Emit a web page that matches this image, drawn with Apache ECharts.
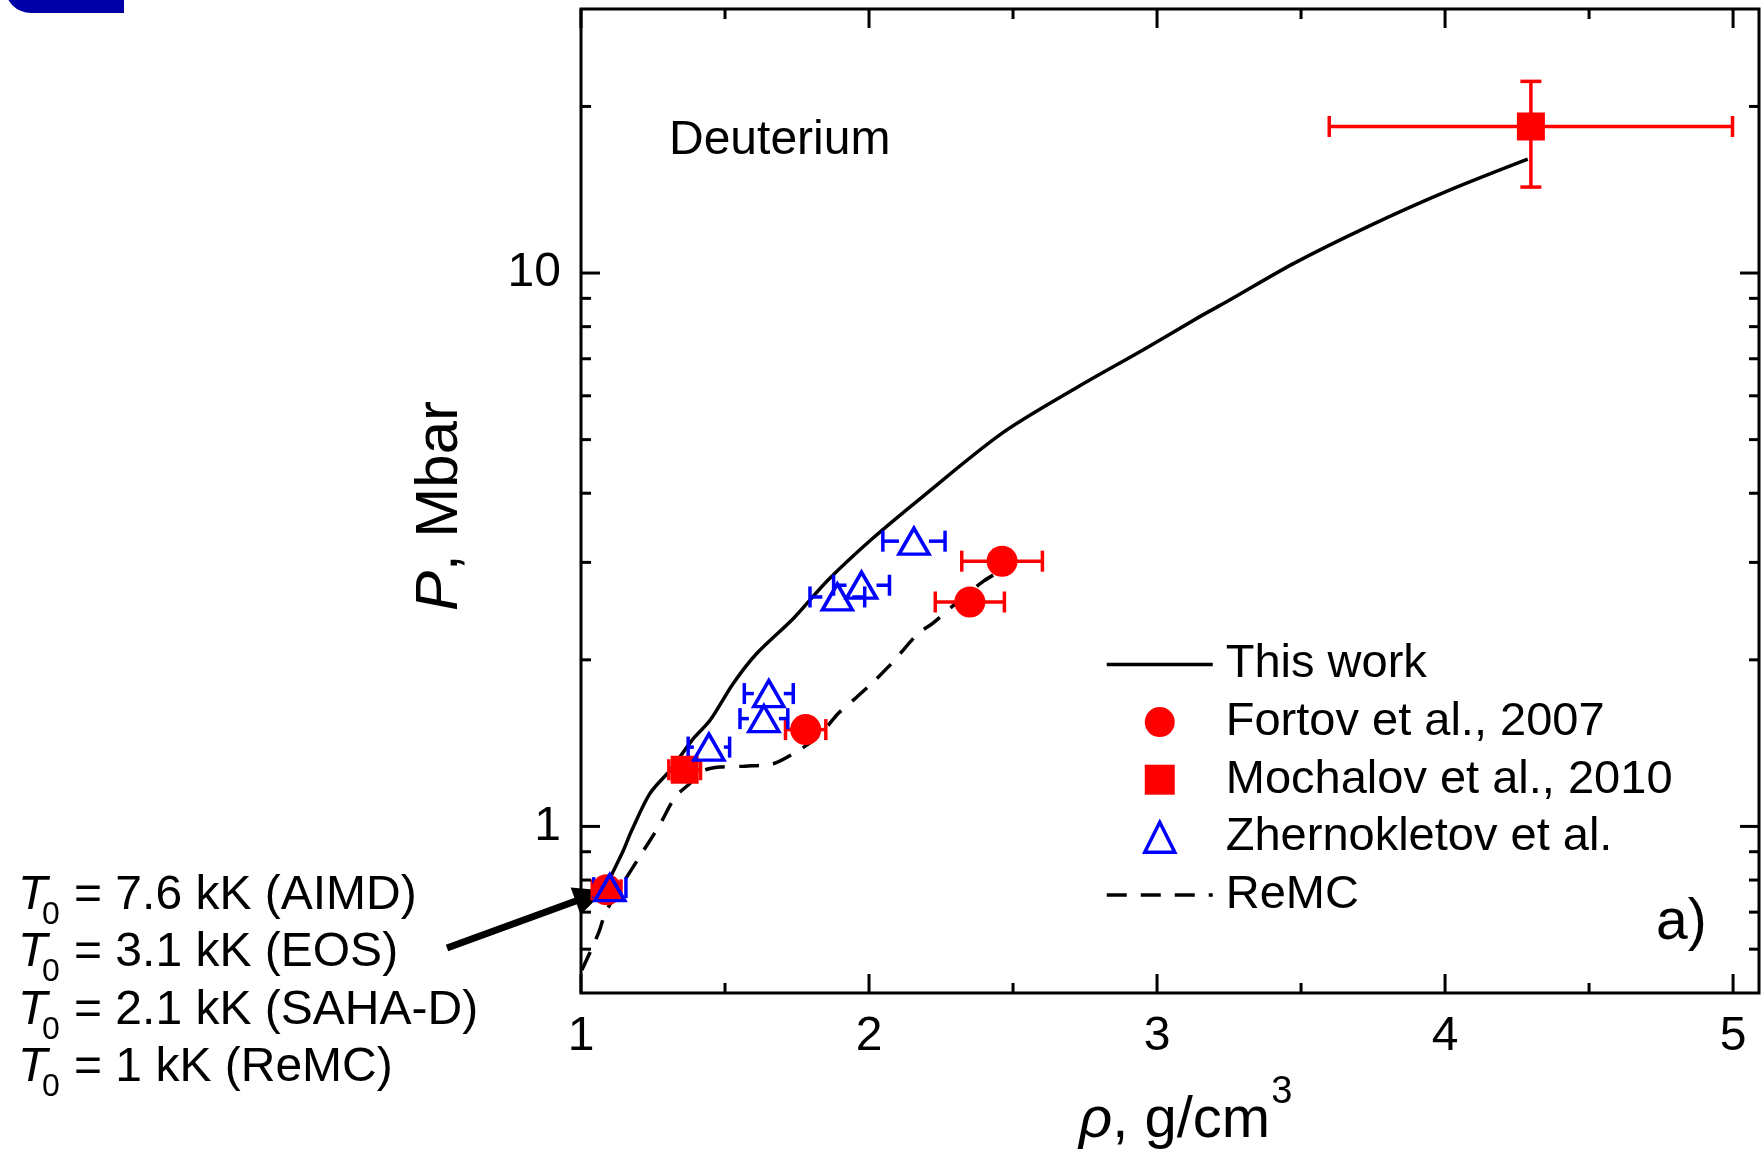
<!DOCTYPE html>
<html>
<head>
<meta charset="utf-8">
<title>Deuterium shock Hugoniot</title>
<script src="https://cdn.jsdelivr.net/npm/echarts@6/dist/echarts.min.js"></script>
<style>
  html, body { margin: 0; padding: 0; background: #fff; }
  #chart { width: 1762px; height: 1150px; }
</style>
</head>
<body>
<div id="chart"></div>
<script>
// axis ranges and tick values
const X_MIN = 1, X_MAX = 5.09
const Y_MIN = 0.5, Y_MAX = 30
const xTicksMajor = [1, 2, 3, 4, 5]
const xTicksMinor = [1.5, 2.5, 3.5, 4.5]
const yTicksMajor = [1, 10]
const yTicksMinor = [0.6, 0.7, 0.8, 0.9, 2, 3, 4, 5, 6, 7, 8, 9, 20]
const xLabels = [1, 2, 3, 4, 5]
const yLabels = [1, 10]

// "This work" (solid)
const thisWorkRho = [1.095, 1.107, 1.147, 1.176, 1.239, 1.309, 1.390, 1.448, 1.528, 1.610, 1.740, 1.857, 2.012, 2.178, 2.460, 2.726, 2.951, 3.150, 3.246, 3.475, 3.732, 4.003, 4.287]
const thisWorkP = [0.790, 0.819, 0.905, 0.983, 1.146, 1.263, 1.441, 1.555, 1.811, 2.053, 2.383, 2.785, 3.313, 3.913, 5.127, 6.23, 7.26, 8.35, 8.90, 10.41, 12.13, 14.03, 16.06]

// ReMC (dashed)
const remcRho = [1.003, 1.060, 1.089, 1.199, 1.274, 1.326, 1.378, 1.424, 1.482, 1.570, 1.667, 1.737, 1.806, 1.852, 1.893, 1.956, 2.008, 2.066, 2.107, 2.170, 2.222, 2.286, 2.400, 2.460]
const remcP = [0.550, 0.640, 0.705, 0.874, 1.008, 1.128, 1.196, 1.260, 1.280, 1.285, 1.298, 1.353, 1.430, 1.510, 1.600, 1.710, 1.810, 1.940, 2.050, 2.230, 2.330, 2.490, 2.780, 2.900]

// Fortov et al., 2007
const fortovRho = [1.089, 1.780, 2.350, 2.462]
const fortovP = [0.768, 1.496, 2.544, 3.015]
const fortovErr = [0.05, 0.07, 0.12, 0.14]

// Mochalov et al., 2010
const mochalovRho = [1.360, 4.298]
const mochalovP = [1.266, 18.4]
const mochalovErr = [0.055, 0.70]
const mochalovPLow = [1.266, 14.3]
const mochalovPHigh = [1.266, 22.2]

// Zhernokletov et al.
const zhernRho = [1.100, 1.444, 1.635, 1.652, 1.890, 1.974, 2.156]
const zhernP = [0.775, 1.391, 1.566, 1.738, 2.598, 2.728, 3.277]
const zhernErr = [0.056, 0.072, 0.083, 0.085, 0.095, 0.097, 0.108]

// initial temperatures listed on the left
const t0Values = ['7.6', '3.1', '2.1', '1']
const t0Models = ['AIMD', 'EOS', 'SAHA-D', 'ReMC']

const FONT = "'Liberation Sans', Arial, Helvetica, sans-serif"
const RED = '#ff0000'
const BLUE = '#0000ff'

const pairs = (xs, ys) => xs.map((x, i) => [x, ys[i]])

const tickStyle = { stroke: '#000', lineWidth: 3 }

function xTickItem(params, api) {
  const v = api.value(0), len = api.value(2)
  const b = api.coord([v, Y_MIN]), t = api.coord([v, Y_MAX])
  return {
    type: 'group',
    children: [
      { type: 'line', shape: { x1: b[0], y1: b[1], x2: b[0], y2: b[1] - len }, style: tickStyle },
      { type: 'line', shape: { x1: t[0], y1: t[1], x2: t[0], y2: t[1] + len }, style: tickStyle }
    ]
  }
}

function yTickItem(params, api) {
  const v = api.value(1), len = api.value(2)
  const l = api.coord([X_MIN, v]), r = api.coord([X_MAX, v])
  return {
    type: 'group',
    children: [
      { type: 'line', shape: { x1: l[0], y1: l[1], x2: l[0] + len, y2: l[1] }, style: tickStyle },
      { type: 'line', shape: { x1: r[0], y1: r[1], x2: r[0] - len, y2: r[1] }, style: tickStyle }
    ]
  }
}

// horizontal (and optional vertical) error bars with caps; gap keeps bars out of hollow symbols
function errorBarItem(color, gap) {
  return function (params, api) {
    const x = api.value(0), y = api.value(1), dx = api.value(2)
    const lo = api.value(3), hi = api.value(4)
    const c = api.coord([x, y])
    const l = api.coord([x - dx, y])
    const r = api.coord([x + dx, y])
    const s = { stroke: color, lineWidth: 3.5 }
    const cap = 10.5
    const kids = [
      { type: 'line', shape: { x1: l[0], y1: c[1], x2: c[0] - gap, y2: c[1] }, style: s },
      { type: 'line', shape: { x1: c[0] + gap, y1: c[1], x2: r[0], y2: c[1] }, style: s },
      { type: 'line', shape: { x1: l[0], y1: c[1] - cap, x2: l[0], y2: c[1] + cap }, style: s },
      { type: 'line', shape: { x1: r[0], y1: c[1] - cap, x2: r[0], y2: c[1] + cap }, style: s }
    ]
    if (hi > lo) {
      const t = api.coord([x, hi]), b = api.coord([x, lo])
      kids.push(
        { type: 'line', shape: { x1: c[0], y1: t[1], x2: c[0], y2: b[1] }, style: s },
        { type: 'line', shape: { x1: c[0] - cap, y1: t[1], x2: c[0] + cap, y2: t[1] }, style: s },
        { type: 'line', shape: { x1: c[0] - cap, y1: b[1], x2: c[0] + cap, y2: b[1] }, style: s }
      )
    }
    return { type: 'group', children: kids }
  }
}

function errorData(rho, p, err, lo, hi) {
  return rho.map((x, i) => [x, p[i], err[i], lo ? lo[i] : p[i], hi ? hi[i] : p[i]])
}

// legend rows: one for each line, one block for the three symbol series
const ROW = 57.6
const LEG_TOP = 635.5
const legendText = { fontSize: 47, fontFamily: FONT, color: '#000', lineHeight: 48 }
const hideLegendSymbol = { color: 'rgba(0,0,0,0)', borderWidth: 0, opacity: 0 }

const chart = echarts.init(document.getElementById('chart'))

chart.setOption({
  animation: false,
  backgroundColor: '#fff',
  grid: {
    left: 581, top: 9, width: 1178, height: 984,
    show: true, borderColor: '#000', borderWidth: 3, backgroundColor: 'transparent'
  },
  xAxis: {
    type: 'value', min: X_MIN, max: X_MAX, interval: 1,
    axisLine: { show: false }, axisTick: { show: false }, splitLine: { show: false },
    axisLabel: {
      margin: 20, fontSize: 48, fontFamily: FONT, color: '#000',
      formatter: v => (xLabels.indexOf(v) >= 0 ? String(v) : '')
    }
  },
  yAxis: {
    type: 'log', logBase: 10, min: Y_MIN, max: Y_MAX,
    axisLine: { show: false }, axisTick: { show: false }, splitLine: { show: false },
    axisLabel: {
      margin: 20, fontSize: 48, fontFamily: FONT, color: '#000',
      formatter: v => (yLabels.some(t => Math.abs(t - v) < 1e-9) ? String(Math.round(v)) : '')
    },
    name: '{i|P}{n|, Mbar}',
    nameLocation: 'middle', nameGap: 111,
    nameTextStyle: {
      padding: [0, 10, 0, 0],
      rich: {
        i: { fontSize: 60, fontFamily: FONT, fontStyle: 'italic', color: '#000' },
        n: { fontSize: 60, fontFamily: FONT, color: '#000' }
      }
    }
  },
  legend: [
    {
      orient: 'vertical', left: 1100, top: LEG_TOP,
      itemWidth: 106, itemHeight: 30, selectedMode: false,
      textStyle: Object.assign({ padding: [0, 0, 0, 8] }, legendText),
      lineStyle: { width: 3.5 },
      data: [{ name: 'This work', itemStyle: hideLegendSymbol }]
    },
    {
      orient: 'vertical', left: 1138, top: LEG_TOP + ROW,
      itemWidth: 30, itemHeight: 30, itemGap: ROW - 48, selectedMode: false,
      symbolKeepAspect: true,
      textStyle: Object.assign({ padding: [0, 0, 0, 46] }, legendText),
      data: [
        { name: 'Fortov et al., 2007' },
        { name: 'Mochalov et al., 2010' },
        { name: 'Zhernokletov et al.', itemStyle: { borderWidth: 3.5 } }
      ]
    },
    {
      orient: 'vertical', left: 1100, top: LEG_TOP + 4 * ROW,
      itemWidth: 106, itemHeight: 30, selectedMode: false,
      textStyle: Object.assign({ padding: [0, 0, 0, 8] }, legendText),
      lineStyle: { width: 3.5 },
      data: [{ name: 'ReMC', itemStyle: hideLegendSymbol }]
    }
  ],
  series: [
    {
      name: 'xticks', type: 'custom', renderItem: xTickItem, silent: true, z: 10,
      data: xTicksMajor.map(v => [v, Y_MIN, 19]).concat(xTicksMinor.map(v => [v, Y_MIN, 10]))
    },
    {
      name: 'yticks', type: 'custom', renderItem: yTickItem, silent: true, z: 10,
      data: yTicksMajor.map(v => [X_MIN, v, 19]).concat(yTicksMinor.map(v => [X_MIN, v, 10]))
    },
    {
      name: 'This work', type: 'line', data: pairs(thisWorkRho, thisWorkP),
      symbol: 'none', smooth: 0.3, z: 2,
      lineStyle: { color: '#000', width: 3.5 }, itemStyle: { color: '#000' }
    },
    {
      name: 'ReMC', type: 'line', data: pairs(remcRho, remcP),
      symbol: 'none', smooth: 0.3, z: 2,
      lineStyle: { color: '#000', width: 3.5, type: [20, 14] }, itemStyle: { color: '#000' }
    },
    {
      name: 'fortov-err', type: 'custom', renderItem: errorBarItem(RED, 0), z: 3,
      data: errorData(fortovRho, fortovP, fortovErr)
    },
    {
      name: 'mochalov-err', type: 'custom', renderItem: errorBarItem(RED, 0), z: 3,
      data: errorData(mochalovRho, mochalovP, mochalovErr, mochalovPLow, mochalovPHigh)
    },
    {
      name: 'zhern-err', type: 'custom', renderItem: errorBarItem(BLUE, 15), z: 3,
      data: errorData(zhernRho, zhernP, zhernErr)
    },
    {
      name: 'Fortov et al., 2007', type: 'scatter', data: pairs(fortovRho, fortovP),
      symbol: 'circle', symbolSize: 31, z: 4, itemStyle: { color: RED, opacity: 1 }
    },
    {
      name: 'Mochalov et al., 2010', type: 'scatter', data: pairs(mochalovRho, mochalovP),
      symbol: 'rect', symbolSize: 28, z: 4, itemStyle: { color: RED, opacity: 1 }
    },
    {
      name: 'Zhernokletov et al.', type: 'scatter', data: pairs(zhernRho, zhernP),
      symbol: 'triangle', symbolSize: [30, 26], z: 5,
      itemStyle: { color: 'rgba(255,255,255,0)', borderColor: BLUE, borderWidth: 3.5, opacity: 1 }
    }
  ]
})

// text width helper for the composed axis title
const measureCtx = document.createElement('canvas').getContext('2d')
function textWidth(text, size, style) {
  measureCtx.font = (style ? style + ' ' : '') + size + 'px ' + FONT
  return measureCtx.measureText(text).width
}

// annotations: arrow to the starting state, labels
const tip0 = chart.convertToPixel({ gridIndex: 0 }, [fortovRho[0], fortovP[0]])
const tail = [447, 948]
const dxA = tip0[0] - tail[0], dyA = tip0[1] - tail[1]
const lenA = Math.sqrt(dxA * dxA + dyA * dyA)
const ux = dxA / lenA, uy = dyA / lenA
const tip = [tip0[0] - 2 * ux, tip0[1] - 2 * uy]
const nx = -uy, ny = ux
const headLen = 31, headHalf = 14.5

// x-axis title: rho, g/cm^3
const titleX = 1079, titleY = 1121
const rhoW = textWidth('ρ', 58, 'italic')
const unitW = textWidth(', g/cm', 58)

const graphics = [
  {
    type: 'rect',
    shape: { x: 5, y: -40, width: 119, height: 53, r: [0, 0, 0, 26] },
    style: { fill: '#0000a8' }
  },
  {
    type: 'text', x: 669, y: 140.5,
    style: { text: 'Deuterium', fontSize: 48, fontFamily: FONT, fill: '#000', verticalAlign: 'middle' }
  },
  {
    type: 'text', x: 1656, y: 923,
    style: { text: 'a)', fontSize: 57, fontFamily: FONT, fill: '#000', verticalAlign: 'middle' }
  },
  {
    type: 'text', x: titleX, y: titleY,
    style: { text: 'ρ', fontSize: 58, fontStyle: 'italic', fontFamily: FONT, fill: '#000', verticalAlign: 'middle' }
  },
  {
    type: 'text', x: titleX + rhoW, y: titleY,
    style: { text: ', g/cm', fontSize: 58, fontFamily: FONT, fill: '#000', verticalAlign: 'middle' }
  },
  {
    type: 'text', x: titleX + rhoW + unitW + 1, y: 1093,
    style: { text: '3', fontSize: 38, fontFamily: FONT, fill: '#000', verticalAlign: 'middle' }
  },
  {
    type: 'line',
    shape: { x1: tail[0], y1: tail[1], x2: tip[0] - 22 * ux, y2: tip[1] - 22 * uy },
    style: { stroke: '#000', lineWidth: 7 }
  },
  {
    type: 'polygon',
    shape: {
      points: [
        tip,
        [tip[0] - headLen * ux + headHalf * nx, tip[1] - headLen * uy + headHalf * ny],
        [tip[0] - headLen * ux - headHalf * nx, tip[1] - headLen * uy - headHalf * ny]
      ]
    },
    style: { fill: '#000' }
  }
]

const lineCenters = [895.5, 952.5, 1010.5, 1067.5]
t0Values.forEach((val, i) => {
  const cy = lineCenters[i]
  graphics.push(
    {
      type: 'text', x: 18, y: cy,
      style: { text: 'T', fontSize: 48, fontStyle: 'italic', fontFamily: FONT, fill: '#000', verticalAlign: 'middle' }
    },
    {
      type: 'text', x: 42, y: cy + 20,
      style: { text: '0', fontSize: 32, fontFamily: FONT, fill: '#000', verticalAlign: 'middle' }
    },
    {
      type: 'text', x: 74, y: cy,
      style: { text: '= ' + val + ' kK (' + t0Models[i] + ')', fontSize: 48, fontFamily: FONT, fill: '#000', verticalAlign: 'middle' }
    }
  )
})

chart.setOption({ graphic: graphics })
</script>
</body>
</html>
